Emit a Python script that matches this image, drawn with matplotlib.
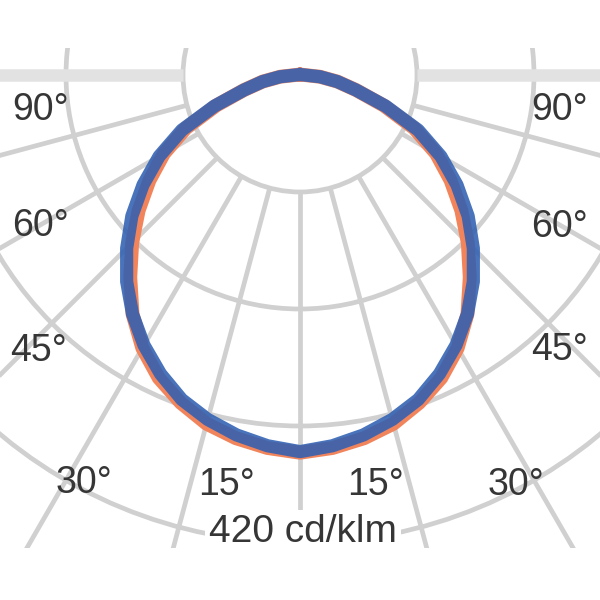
import numpy as np
import matplotlib
matplotlib.use("Agg")
import matplotlib.pyplot as plt
from matplotlib.patches import Circle, Rectangle

# polar intensity values, cd/klm, gamma angle from nadir (deg)
gamma = [0, 5, 10, 15, 20, 25, 30, 35, 40, 45, 50, 55, 60, 65, 70, 75, 80, 85, 90]
c0_c180 = [339, 336, 331, 324, 313, 300, 283, 262, 237, 213, 189, 165, 141, 113, 80, 52, 34, 18, 4]
c90_c270 = [338, 334, 328, 320, 310, 296, 280, 262, 242, 220, 197, 172, 146, 117, 82, 52, 34, 18, 4]

ring_values = [105, 210, 315, 420]
spoke_angles = list(range(0, 360, 15))
scale_label = "420 cd/klm"

# angle labels: text, x, y (axes fraction)
angle_labels = [
    ("90°", 0.068, 0.817), ("60°", 0.068, 0.623), ("45°", 0.064, 0.415),
    ("30°", 0.140, 0.195), ("15°", 0.377, 0.192),
    ("15°", 0.625, 0.192), ("30°", 0.860, 0.192),
    ("45°", 0.933, 0.417), ("60°", 0.933, 0.622), ("90°", 0.933, 0.817),
]

plt.rcParams['font.family'] = ['Liberation Sans', 'DejaVu Sans']

k = 117 / 105.0          # pixels per cd/klm
cy = 75                  # pixel row of the luminaire centre

fig = plt.figure(figsize=(6, 6), dpi=100)
ax = fig.add_axes([0, 0, 1, 1])
ax.set_xlim(-300 / k, 300 / k)
ax.set_ylim(-(600 - cy) / k, cy / k)
ax.set_aspect('equal')
ax.axis('off')

# frame the grid is clipped to
clip = Rectangle((-300 / k, -(548 - cy) / k), 600 / k, 500 / k,
                 transform=ax.transData, fill=False, lw=0)
ax.add_patch(clip)
clip.set_visible(False)

grid_col = '#d0d0d0'
for rv in ring_values:
    c = Circle((0, 0), rv, fill=False, ec=grid_col, lw=3.4, zorder=1)
    ax.add_patch(c)
    c.set_clip_path(clip)

r0 = ring_values[0]
for a in spoke_angles:
    t = np.radians(a)
    lw = 3.4
    col = grid_col
    if a in (90, 270):
        lw = 9
        col = '#e2e2e2'
    ln, = ax.plot([r0 * np.sin(t), 900 * np.sin(t)],
                  [-r0 * np.cos(t), -900 * np.cos(t)],
                  color=col, lw=lw, solid_capstyle='butt', zorder=1)
    ln.set_clip_path(clip)


def curve(vals):
    g = np.radians(np.array(gamma, dtype=float))
    v = np.array(vals, dtype=float)
    # left half (C180 / C270) then right half (C0 / C90)
    th = np.concatenate([-g[::-1], g])
    rr = np.concatenate([v[::-1], v])
    return rr * np.sin(th), -rr * np.cos(th)


x0, y0 = curve(c0_c180)
x1, y1 = curve(c90_c270)
ax.plot(x0, y0, color='#f2845c', lw=10, solid_joinstyle='round', zorder=3)
ax.plot(x1, y1, color='#3060b2', lw=9.5, alpha=0.88, solid_joinstyle='round', zorder=4)

for txt, xf, yf in angle_labels:
    ax.text(xf, yf, txt, transform=ax.transAxes, ha='center', va='center',
            fontsize=27, color='#363636', zorder=5)

ax.text(0.505, 0.113, scale_label, transform=ax.transAxes, ha='center', va='center',
        fontsize=28, color='#363636', zorder=5,
        bbox=dict(boxstyle='square,pad=0.1', fc='white', ec='none'))

fig.savefig('out.png', dpi=100, facecolor='white')
